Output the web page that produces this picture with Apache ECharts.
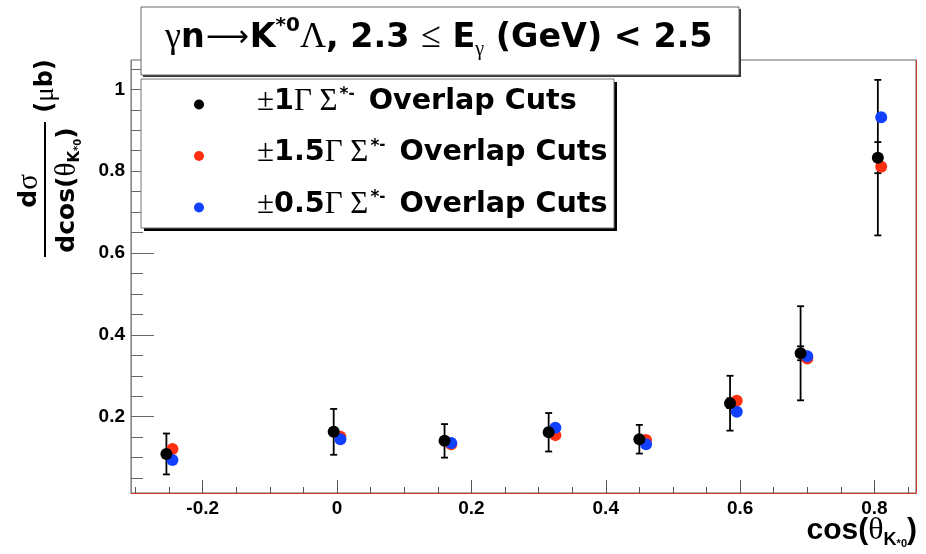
<!DOCTYPE html>
<html>
<head>
<meta charset="utf-8">
<script src="https://cdn.jsdelivr.net/npm/echarts@6/dist/echarts.min.js"></script>
<style>
  html, body { margin: 0; padding: 0; background: #ffffff; }
  #chart { width: 926px; height: 554px; }
</style>
</head>
<body>
<div id="chart"></div>
<script>
// cos(theta_K*0) bin centres (reference cut) and the slightly shifted centres for the variations
const cosTheta        = [-0.254, -0.005, 0.160, 0.315, 0.450, 0.585, 0.690, 0.805];
const cosThetaShifted = [-0.245,  0.005, 0.170, 0.325, 0.460, 0.595, 0.700, 0.810];

// dsigma/dcos (ub) for the three Sigma*- overlap cut widths
const xsecCut1   = [0.109, 0.163, 0.141, 0.162, 0.145, 0.233, 0.355, 0.833];
const xsecCut15  = [0.121, 0.151, 0.133, 0.155, 0.143, 0.239, 0.342, 0.811];
const xsecCut05  = [0.094, 0.145, 0.136, 0.173, 0.133, 0.212, 0.348, 0.932];

// uncertainties on the reference cut: total (outer bar) and statistical (inner bar)
const xsecErrTotal = [0.050, 0.056, 0.041, 0.047, 0.035, 0.067, 0.115, 0.190];
const xsecErrInner = [0.010, 0.010, 0.008, 0.009, 0.007, 0.012, 0.017, 0.038];

// cut widths in units of Gamma, one per series
const cutWidths = ['1', '1.5', '0.5'];

// axis ranges and tick positions
const xRange = [-0.3067, 0.8618];
const yRange = [0.0136, 1.0716];
const xMajorTicks = [-0.2, 0, 0.2, 0.4, 0.6, 0.8];
const xMinorTicks = [-0.3, -0.25, -0.15, -0.1, -0.05, 0.05, 0.1, 0.15, 0.25, 0.3, 0.35, 0.45, 0.5, 0.55, 0.65, 0.7, 0.75, 0.85];
const yMajorTicks = [0.2, 0.4, 0.6, 0.8, 1];
const yMinorTicks = [0.05, 0.1, 0.15, 0.25, 0.3, 0.35, 0.45, 0.5, 0.55, 0.65, 0.7, 0.75, 0.85, 0.9, 0.95, 1.05];

const SANS = '"Liberation Sans", Arial, Helvetica, sans-serif';
const WIDE = '"DejaVu Sans", Verdana, sans-serif';
const SERIF = '"Liberation Serif", "DejaVu Serif", serif';
const RED = '#ff3010';
const BLUE = '#1240ff';

const seriesNames = cutWidths.map(w => '±' + w + 'Γ Σ*- Overlap Cuts');

const chart = echarts.init(document.getElementById('chart'), null, { renderer: 'canvas' });

function zip(xs, ys) { return xs.map((x, i) => [x, ys[i]]); }

// error bars with caps, outer (total) and inner (statistical)
function renderErrorBar(params, api) {
  const x = api.value(0), y = api.value(1);
  const eTot = api.value(2), eIn = api.value(3);
  const top = api.coord([x, y + eTot]);
  const bot = api.coord([x, y - eTot]);
  const iTop = api.coord([x, y + eIn]);
  const iBot = api.coord([x, y - eIn]);
  const cap = 3.5;
  const style = { stroke: '#000', lineWidth: 1.8 };
  const h = (p) => ({ type: 'line', shape: { x1: p[0] - cap, y1: p[1], x2: p[0] + cap, y2: p[1] }, style });
  return {
    type: 'group',
    children: [
      { type: 'line', shape: { x1: top[0], y1: top[1], x2: bot[0], y2: bot[1] }, style },
      h(top), h(bot), h(iTop), h(iBot)
    ]
  };
}

const legendRich = {
  b:   { fontFamily: WIDE, fontWeight: 'bold', fontSize: 28.6, lineHeight: 30, color: '#000' },
  pm:  { fontFamily: SERIF, fontWeight: 'normal', fontSize: 31, lineHeight: 30, color: '#000' },
  g:   { fontFamily: SERIF, fontWeight: 'normal', fontSize: 31, lineHeight: 30, color: '#000' },
  sup: { fontFamily: WIDE, fontWeight: 'bold', fontSize: 17, lineHeight: 20, verticalAlign: 'top', padding: [0, 0, 0, 2], color: '#000' },
  supm:{ fontFamily: WIDE, fontWeight: 'bold', fontSize: 15, lineHeight: 12, verticalAlign: 'top', padding: [0, 14, 0, 0], color: '#000' }
};

function hiddenAxisLine() { return { show: false, onZero: false }; }

const option = {
  animation: false,
  backgroundColor: '#ffffff',
  grid: {
    left: 131, right: 10, top: 60, bottom: 61,
    show: true, borderColor: '#666', borderWidth: 1, backgroundColor: 'transparent'
  },
  title: {
    text: '{g|γ}{b|n}{ar|⟶}{b|K}{sup|*0}{g|Λ}{b|, 2.3 }{g|≤}{b| E}{sub|γ}{b| (GeV) < 2.5}',
    left: 165, top: 16, padding: 0, z: 30,
    textStyle: {
      rich: {
        b:   { fontFamily: WIDE, fontWeight: 'bold', fontSize: 33.4, lineHeight: 44, color: '#000' },
        g:   { fontFamily: SERIF, fontWeight: 'normal', fontSize: 36, lineHeight: 44, color: '#000' },
        ar:  { fontFamily: WIDE, fontWeight: 'normal', fontSize: 30, lineHeight: 44, padding: [0, 1, 0, 1], color: '#000' },
        sup: { fontFamily: WIDE, fontWeight: 'bold', fontSize: 20, lineHeight: 30, verticalAlign: 'top', color: '#000' },
        sub: { fontFamily: SERIF, fontWeight: 'normal', fontSize: 20, lineHeight: 18, verticalAlign: 'bottom', color: '#000' }
      }
    }
  },
  legend: {
    orient: 'vertical',
    left: 194, top: 86, padding: 0,
    itemWidth: 106, itemHeight: 10, itemGap: 20.5,
    icon: 'circle',
    z: 30,
    data: seriesNames,
    formatter: (name) => {
      const w = cutWidths[seriesNames.indexOf(name)];
      return '{pm|±}{b|' + w + '}{g|Γ Σ}{sup|*}{supm|-}{b|Overlap Cuts}';
    },
    textStyle: { padding: [0, 0, 6, 0], rich: legendRich }
  },
  xAxis: [
    {
      type: 'value', min: xRange[0], max: xRange[1], position: 'bottom',
      axisLine: { show: true, onZero: false, lineStyle: { color: '#d03a2a', width: 1 } },
      axisTick: { show: true, inside: true, length: 13, customValues: xMajorTicks, lineStyle: { color: '#555', width: 1 } },
      axisLabel: { customValues: xMajorTicks, margin: 6, fontFamily: SANS, fontWeight: 'bold', fontSize: 19, color: '#000' },
      splitLine: { show: false }
    },
    {
      type: 'value', min: xRange[0], max: xRange[1], position: 'bottom',
      axisLine: hiddenAxisLine(),
      axisTick: { show: true, inside: true, length: 6, customValues: xMinorTicks, lineStyle: { color: '#555', width: 1 } },
      axisLabel: { show: false },
      splitLine: { show: false }
    }
  ],
  yAxis: [
    {
      type: 'value', min: yRange[0], max: yRange[1], position: 'left',
      axisLine: { show: true, onZero: false, lineStyle: { color: '#888', width: 1 } },
      axisTick: { show: true, inside: true, length: 23, customValues: yMajorTicks, lineStyle: { color: '#666', width: 1 } },
      axisLabel: { customValues: yMajorTicks, margin: 6, fontFamily: SANS, fontWeight: 'bold', fontSize: 19, color: '#000' },
      splitLine: { show: false }
    },
    {
      type: 'value', min: yRange[0], max: yRange[1], position: 'left',
      axisLine: hiddenAxisLine(),
      axisTick: { show: true, inside: true, length: 12, customValues: yMinorTicks, lineStyle: { color: '#666', width: 1 } },
      axisLabel: { show: false },
      splitLine: { show: false }
    },
    {
      type: 'value', min: yRange[0], max: yRange[1], position: 'right',
      axisLine: { show: true, onZero: false, lineStyle: { color: '#d03a2a', width: 1 } },
      axisTick: { show: false }, axisLabel: { show: false }, splitLine: { show: false }
    }
  ],
  series: [
    {
      type: 'custom', name: 'errors', xAxisIndex: 0, yAxisIndex: 0,
      renderItem: renderErrorBar, clip: false, z: 2,
      encode: { x: 0, y: 1 },
      data: cosTheta.map((x, i) => [x, xsecCut1[i], xsecErrTotal[i], xsecErrInner[i]])
    },
    {
      type: 'scatter', name: seriesNames[1], xAxisIndex: 0, yAxisIndex: 0, z: 3,
      symbol: 'circle', symbolSize: 12, itemStyle: { color: RED, opacity: 1 },
      data: zip(cosThetaShifted, xsecCut15)
    },
    {
      type: 'scatter', name: seriesNames[2], xAxisIndex: 0, yAxisIndex: 0, z: 4,
      symbol: 'circle', symbolSize: 12, itemStyle: { color: BLUE, opacity: 1 },
      data: zip(cosThetaShifted, xsecCut05)
    },
    {
      type: 'scatter', name: seriesNames[0], xAxisIndex: 0, yAxisIndex: 0, z: 5,
      symbol: 'circle', symbolSize: 12, itemStyle: { color: '#000', opacity: 1 },
      data: zip(cosTheta, xsecCut1)
    }
  ],
  graphic: [
    // title box with hard shadow
    { type: 'rect', shape: { x: 143, y: 9, width: 598, height: 68 }, style: { fill: '#333' }, z: 20 },
    { type: 'rect', shape: { x: 141, y: 7, width: 598, height: 68 }, style: { fill: '#fff', stroke: '#666', lineWidth: 1 }, z: 21 },
    // legend box with hard shadow
    { type: 'rect', shape: { x: 144, y: 82, width: 473, height: 149 }, style: { fill: '#000' }, z: 20 },
    { type: 'rect', shape: { x: 141, y: 79, width: 473, height: 149 }, style: { fill: '#fff', stroke: '#777', lineWidth: 1 }, z: 21 },
    // x-axis title
    {
      type: 'text', right: 9, top: 515, z: 30,
      style: {
        text: '{a|cos(}{g|θ}{s|K}{p|*0}{a|)}',
        rich: {
          a: { fontFamily: SANS, fontWeight: 'bold', fontSize: 30, lineHeight: 36, color: '#000' },
          g: { fontFamily: SERIF, fontWeight: 'normal', fontSize: 32, lineHeight: 36, color: '#000' },
          s: { fontFamily: SANS, fontWeight: 'bold', fontSize: 18, lineHeight: 20, verticalAlign: 'bottom', color: '#000' },
          p: { fontFamily: SANS, fontWeight: 'bold', fontSize: 11, lineHeight: 30, verticalAlign: 'bottom', color: '#000' }
        }
      }
    },
    // y-axis title: fraction d(sigma)/dcos(theta) followed by (ub), written bottom-to-top
    {
      type: 'text', x: 29, y: 191, rotation: Math.PI / 2, z: 30,
      style: {
        text: '{a|d}{g|σ}', align: 'center', verticalAlign: 'middle',
        rich: {
          a: { fontFamily: WIDE, fontWeight: 'bold', fontSize: 25, lineHeight: 30, color: '#000' },
          g: { fontFamily: SERIF, fontWeight: 'normal', fontSize: 29, lineHeight: 30, color: '#000' }
        }
      }
    },
    { type: 'line', shape: { x1: 45, y1: 122, x2: 45, y2: 257 }, style: { stroke: '#000', lineWidth: 2 }, z: 30 },
    {
      type: 'text', x: 67, y: 190, rotation: Math.PI / 2, z: 30,
      style: {
        text: '{a|dcos(}{g|θ}{s|K}{p|*0}{a|)}', align: 'center', verticalAlign: 'middle',
        rich: {
          a: { fontFamily: WIDE, fontWeight: 'bold', fontSize: 25, lineHeight: 32, color: '#000' },
          g: { fontFamily: SERIF, fontWeight: 'normal', fontSize: 29, lineHeight: 32, color: '#000' },
          s: { fontFamily: WIDE, fontWeight: 'bold', fontSize: 15, lineHeight: 17, verticalAlign: 'bottom', color: '#000' },
          p: { fontFamily: WIDE, fontWeight: 'bold', fontSize: 10, lineHeight: 27, verticalAlign: 'bottom', color: '#000' }
        }
      }
    },
    {
      type: 'text', x: 46, y: 86, rotation: Math.PI / 2, z: 30,
      style: {
        text: '{a|(}{g|μ}{a|b)}', align: 'center', verticalAlign: 'middle',
        rich: {
          a: { fontFamily: WIDE, fontWeight: 'bold', fontSize: 24, lineHeight: 30, color: '#000' },
          g: { fontFamily: SERIF, fontWeight: 'normal', fontSize: 27, lineHeight: 30, color: '#000' }
        }
      }
    }
  ]
};

chart.setOption(option);
</script>
</body>
</html>
